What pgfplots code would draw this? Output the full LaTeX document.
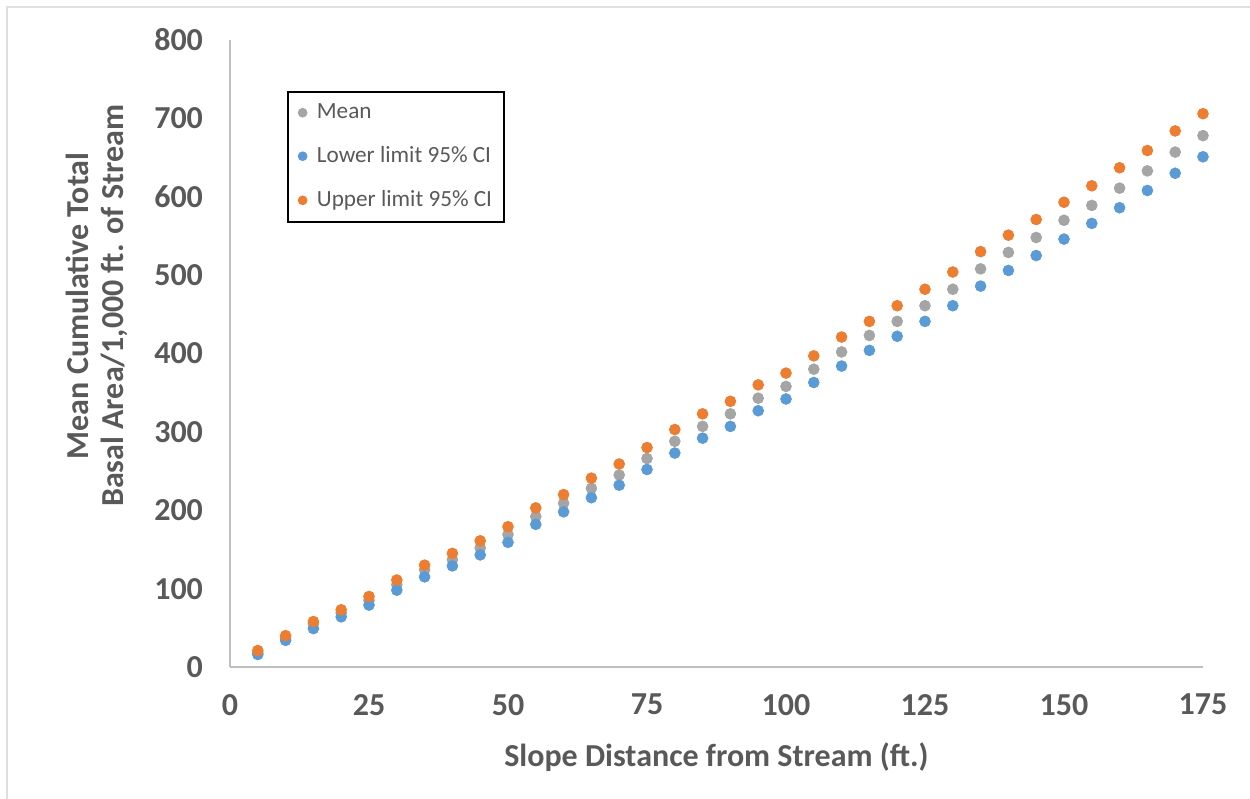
\documentclass[border=0pt]{standalone}
\usepackage{fontspec}
\setmainfont{Carlito}
\usepackage{pgfplots}
\pgfplotsset{compat=1.18}
\definecolor{meanc}{HTML}{A5A5A5}
\definecolor{lowc}{HTML}{5B9BD5}
\definecolor{upc}{HTML}{ED7D31}
\definecolor{txt}{HTML}{595959}
\definecolor{axl}{HTML}{BFBFBF}
\begin{document}
\begin{tikzpicture}
\useasboundingbox (0,0) rectangle (625pt,399.5pt);
\draw[gray!25, line width=1pt] (3.5pt,-2pt) -- (3.5pt,396pt) -- (630pt,396pt);
\begin{axis}[
  at={(115pt,66pt)}, anchor=south west,
  scale only axis, width=486.5pt, height=313.5pt,
  xmin=0, xmax=175, ymin=0, ymax=800,
  axis x line=bottom, axis y line=left,
  axis line style={axl, line width=1pt, -},
  xtick={0,25,...,175}, ytick={0,100,...,800},
  major tick length=0pt,
  /pgf/number format/assume math mode=true,
  tick label style={font=\fontsize{16}{18}\selectfont\bfseries, text=txt},
  yticklabel style={xshift=-10pt},
  xticklabel style={yshift=-10pt},
  xlabel={Slope Distance from Stream (ft.)},
  xlabel style={font=\fontsize{16}{18}\selectfont\bfseries, text=txt, at={(rel axis cs:0.5,-0.1435)}, anchor=center},
  ylabel={Mean Cumulative Total\\Basal Area/1,000 ft. of Stream},
  ylabel style={font=\fontsize{16}{17.5}\selectfont\bfseries, text=txt, align=center, at={(rel axis cs:-0.1367,0.576)}, anchor=center, rotate=0},
  legend style={at={(rel axis cs:0.0586,0.9187)}, anchor=north west, draw=black, line width=0.8pt,
    font=\fontsize{11.6}{13}\selectfont, text=txt, inner xsep=4pt, inner ysep=4pt, row sep=8.5pt,
    cells={anchor=west}},
  legend image code/.code={\fill (0.12cm,0cm) circle (2pt); \path[draw=none,fill=none] (0,-0.01cm) rectangle (0.3cm,0.01cm);},
]
\addplot[only marks, mark=*, mark size=2.7pt, color=meanc] coordinates {
(5,18)(10,37)(15,55)(20,69)(25,85)(30,105)(35,124)(40,137)(45,152)(50,169)(55,192)(60,209)(65,228)(70,245)(75,266)(80,288)(85,307)(90,323)(95,343)(100,358)(105,380)(110,402)(115,423)(120,441)(125,461)(130,482)(135,508)(140,529)(145,548)(150,570)(155,589)(160,611)(165,633)(170,657)(175,678)};
\addlegendentry{Mean}
\addplot[only marks, mark=*, mark size=2.7pt, color=lowc] coordinates {
(5,16)(10,34)(15,49)(20,64)(25,79)(30,98)(35,115)(40,129)(45,143)(50,159)(55,182)(60,198)(65,216)(70,232)(75,252)(80,273)(85,292)(90,307)(95,327)(100,342)(105,363)(110,384)(115,404)(120,422)(125,441)(130,461)(135,486)(140,506)(145,525)(150,546)(155,566)(160,586)(165,608)(170,630)(175,651)};
\addlegendentry{Lower limit 95\% CI}
\addplot[only marks, mark=*, mark size=2.7pt, color=upc] coordinates {
(5,21)(10,40)(15,58)(20,73)(25,90)(30,111)(35,130)(40,145)(45,161)(50,179)(55,203)(60,220)(65,241)(70,259)(75,280)(80,303)(85,323)(90,339)(95,360)(100,375)(105,397)(110,421)(115,441)(120,461)(125,482)(130,504)(135,530)(140,551)(145,571)(150,593)(155,614)(160,637)(165,659)(170,684)(175,706)};
\addlegendentry{Upper limit 95\% CI}
\end{axis}
\end{tikzpicture}
\end{document}
